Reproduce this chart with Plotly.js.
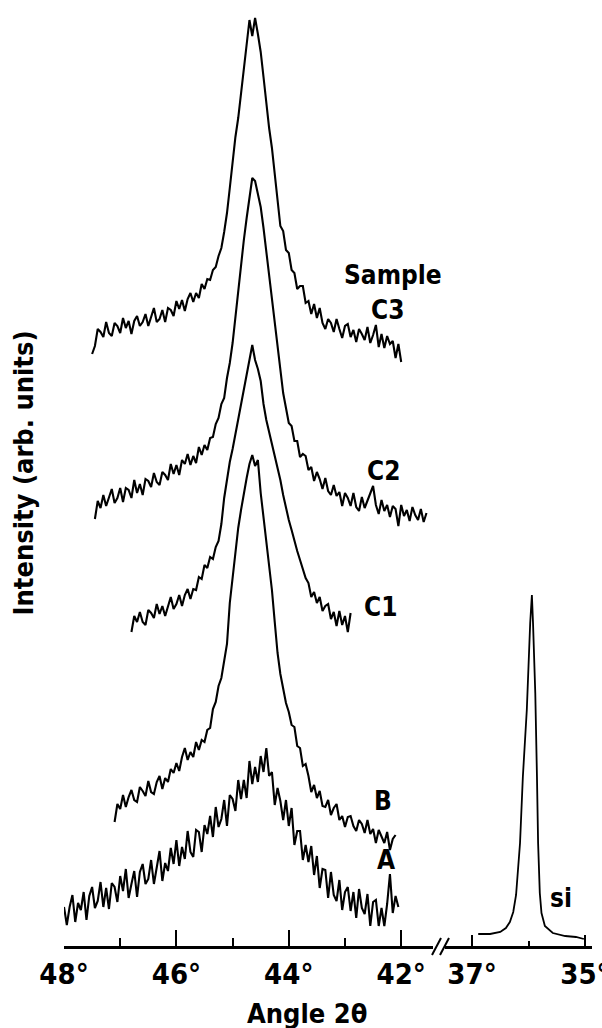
<!DOCTYPE html>
<html>
<head>
<meta charset="utf-8">
<script src="https://cdn.plot.ly/plotly-3.0.1.min.js"></script>
<style>
  html, body { margin: 0; padding: 0; background: #fff; }
  #chart { width: 602px; height: 1028px; }
</style>
</head>
<body>
<div id="chart"></div>
<script>
// ---------------- data ----------------
// Scan grid: each pattern is sampled every 0.05 deg of 2-theta, starting at the given angle and going down.
const angleStep = 0.05;

const c3Start = 47.50;
const c3Intensity = [592,600,617,614,609,624,613,610,623,620,
613,628,618,625,612,625,630,620,624,632,
620,630,638,624,627,636,624,638,636,630,
645,637,646,635,647,653,644,653,648,662,
657,667,666,676,679,690,698,714,733,758,
786,809,828,854,874,900,926,910,928,912,
894,869,842,818,798,774,750,720,715,696,
693,676,673,657,660,660,643,645,632,642,
628,638,623,617,627,623,614,627,617,608,
620,622,609,616,604,617,612,606,619,603,
611,621,599,612,598,610,602,605,588,602,
584];

const c2Start = 47.45;
const c2Intensity = [427,445,438,451,440,449,457,443,448,458,
444,458,456,448,466,453,462,451,467,465,
459,473,464,461,474,471,466,482,472,481,
471,486,482,492,481,490,483,499,491,501,
496,508,509,522,528,542,548,568,583,603,
630,653,680,706,728,749,768,765,750,739,
718,694,670,648,624,600,574,553,538,523,
520,505,505,489,492,490,476,479,465,474,
467,457,468,455,451,461,450,454,440,453,
448,440,453,439,435,449,438,445,452,460,
441,432,446,435,441,429,440,437,420,441,
430,436,425,439,431,426,437,424,433];

const c1Start = 46.80;
const c1Intensity = [314,330,324,334,324,321,336,333,328,342,
332,340,330,341,349,337,342,351,340,351,
357,347,357,356,369,367,381,378,389,387,
399,405,422,448,466,484,497,512,528,541,
556,570,588,601,586,577,565,542,526,514,
502,491,477,466,451,438,426,416,404,395,
386,377,368,363,349,354,343,349,335,340,
342,327,334,320,335,321,330,314,333];

const bStart = 47.10;
const bIntensity = [124,142,137,151,139,149,156,146,144,159,
155,150,165,154,152,164,170,157,168,164,
177,173,183,175,189,198,186,194,189,204,
196,206,204,216,218,237,244,260,268,286,
302,343,369,393,418,436,453,468,482,491,
480,486,453,429,404,381,356,324,293,272,
256,243,234,221,219,200,198,180,182,170,
154,161,148,155,140,139,146,131,138,142,
126,130,119,129,130,120,115,126,122,113,
126,112,117,103,116,110,103,114,96,107,
111];

const aStart = 48.00;
const aIntensity = [39,21,39,51,24,43,36,54,26,50,
59,38,45,64,39,58,37,63,59,44,
70,55,77,48,62,75,49,74,82,62,
67,86,62,81,95,65,83,75,98,82,
106,80,99,87,115,94,89,116,114,94,
121,112,130,109,139,119,127,146,120,151,
147,135,166,147,166,148,185,162,179,164,
190,174,198,170,174,141,158,145,126,146,
120,138,101,115,115,86,101,84,100,71,
90,58,77,76,48,74,51,45,66,36,
54,59,35,54,28,57,38,32,52,20,
44,46,20,38,20,42,72,33,50,39];

const siAngle = [36.89,36.68,36.50,36.40,36.33,36.27,36.22,36.19,36.15,36.10,36.03,35.97,35.94,
                 35.92,35.88,35.85,35.83,35.80,35.77,35.71,35.64,35.57,35.35,35.16,35.02];
const siIntensity = [12,12,14,18,24,34,51,76,103,169,236,323,351,
                     323,253,169,103,53,33,20,16,13,10,9,7];

const sampleLabels = ['C3', 'C2', 'C1', 'B', 'A'];

// ---------------- build ----------------
function scanAngles(start, n) {
  const out = [];
  for (let i = 0; i < n; i++) out.push(+(start - i * angleStep).toFixed(3));
  return out;
}

const lineStyle = { color: '#000', width: 2.1 };
const series = [
  { name: 'C3', start: c3Start, y: c3Intensity },
  { name: 'C2', start: c2Start, y: c2Intensity },
  { name: 'C1', start: c1Start, y: c1Intensity },
  { name: 'B',  start: bStart,  y: bIntensity },
  { name: 'A',  start: aStart,  y: aIntensity }
];
const traces = series.map(s => ({
  type: 'scatter', mode: 'lines', name: s.name,
  x: scanAngles(s.start, s.y.length), y: s.y,
  xaxis: 'x', yaxis: 'y', line: lineStyle, hoverinfo: 'skip'
}));
traces.push({
  type: 'scatter', mode: 'lines', name: 'si',
  x: siAngle, y: siIntensity, xaxis: 'x2', yaxis: 'y',
  line: { color: '#000', width: 1.8 }, hoverinfo: 'skip'
});

const W = 602, H = 1028;
const mL = 40, mB = 82, plotW = W - mL, plotH = H - mB;
const px = p => (p - mL) / plotW;      // pixel -> paper x
const py = p => (plotH - p) / plotH;   // pixel -> paper y

const fam = 'DejaVu Sans Condensed, DejaVu Sans, sans-serif';
const labelFont = { family: fam, size: 26, color: '#000', weight: 'bold' };
const tickFont = { family: fam, size: 29, color: '#000', weight: 'bold' };

const layout = {
  width: W, height: H,
  margin: { l: mL, r: 0, t: 0, b: mB },
  paper_bgcolor: '#fff', plot_bgcolor: '#fff',
  showlegend: false,
  font: labelFont,
  xaxis: {
    domain: [px(64), px(433)], range: [48, 41.434], anchor: 'y',
    showgrid: false, zeroline: false, showline: true, linecolor: '#000', linewidth: 2.5,
    ticks: 'inside', ticklen: 16, tickwidth: 2, tickcolor: '#000',
    tickmode: 'linear', tick0: 48, dtick: 2, ticksuffix: '°', tickfont: tickFont,
    ticklabelstandoff: 1,
    minor: { tick0: 48, dtick: 1, ticks: 'inside', ticklen: 8, tickwidth: 2, tickcolor: '#000', showgrid: false }
  },
  xaxis2: {
    domain: [px(445), px(592)], range: [37.478, 34.876], anchor: 'y',
    showgrid: false, zeroline: false, showline: true, linecolor: '#000', linewidth: 2.5,
    ticks: 'inside', ticklen: 11, tickwidth: 2, tickcolor: '#000',
    tickmode: 'linear', tick0: 35, dtick: 2, ticksuffix: '°', tickfont: tickFont,
    ticklabeloverflow: 'allow', ticklabelstandoff: 1,
    minor: { tick0: 35, dtick: 1, ticks: 'inside', ticklen: 5, tickwidth: 2, tickcolor: '#000', showgrid: false }
  },
  yaxis: {
    domain: [0, 1], range: [0, 946],
    showline: false, showgrid: false, zeroline: false, ticks: '', showticklabels: false,
    title: { text: 'Intensity (arb. units)', font: Object.assign({}, labelFont, { size: 27 }), standoff: 21 }
  },
  annotations: [
    { xref: 'x', yref: 'y', x: 42.146, y: 671, text: 'Sample', showarrow: false, font: labelFont },
    { xref: 'x', yref: 'y', x: 42.235, y: 636, text: sampleLabels[0], showarrow: false, font: labelFont },
    { xref: 'x', yref: 'y', x: 42.306, y: 475, text: sampleLabels[1], showarrow: false, font: labelFont },
    { xref: 'x', yref: 'y', x: 42.377, y: 339, text: sampleLabels[2], showarrow: false, font: labelFont },
    { xref: 'x', yref: 'y', x: 42.324, y: 145, text: sampleLabels[3], showarrow: false, font: labelFont },
    { xref: 'x', yref: 'y', x: 42.262, y: 86,  text: sampleLabels[4], showarrow: false, font: labelFont },
    { xref: 'x2', yref: 'y', x: 35.425, y: 48, text: 'si', showarrow: false, font: labelFont },
    { xref: 'paper', yref: 'paper', x: px(307), y: py(1013), text: 'Angle 2θ', showarrow: false,
      font: Object.assign({}, labelFont, { size: 27 }), xanchor: 'center', yanchor: 'middle' }
  ],
  shapes: [
    { type: 'line', xref: 'paper', yref: 'paper', x0: px(432), y0: py(955), x1: px(441), y1: py(938), line: { color: '#000', width: 2 } },
    { type: 'line', xref: 'paper', yref: 'paper', x0: px(440), y0: py(955), x1: px(449), y1: py(938), line: { color: '#000', width: 2 } }
  ]
};

Plotly.newPlot('chart', traces, layout, { staticPlot: true, displayModeBar: false });
</script>
</body>
</html>
